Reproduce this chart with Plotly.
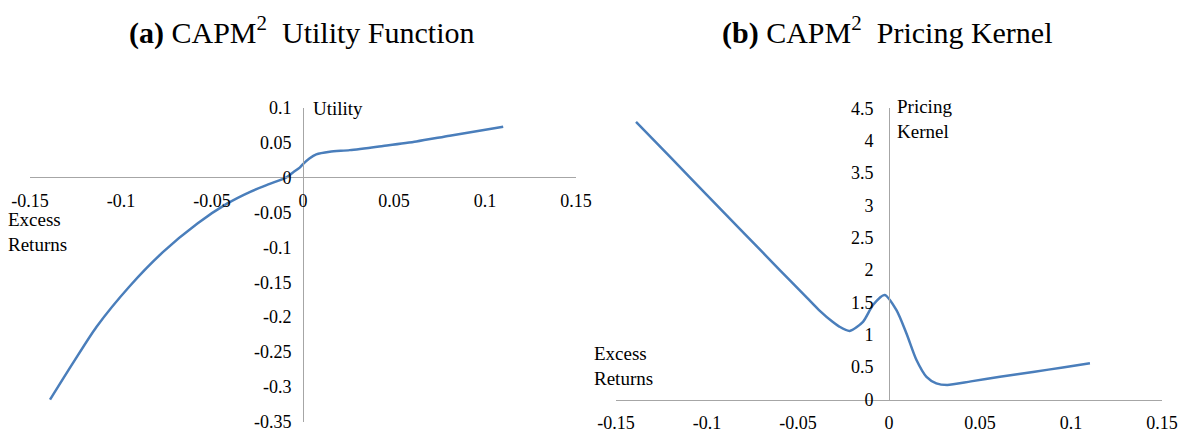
import plotly.graph_objects as go

# ---------------- data ----------------
utility_x = [-0.139, -0.126, -0.1135, -0.095, -0.077, -0.058, -0.042, -0.0293, -0.0183,
             -0.0091, -0.0055, -0.0018, 0.0, 0.0035, 0.0073, 0.0147, 0.0257, 0.044,
             0.0623, 0.0806, 0.11]
utility_y = [-0.318, -0.264, -0.214, -0.155, -0.107, -0.066, -0.038, -0.021, -0.0094,
             0.0, 0.0071, 0.014, 0.019, 0.027, 0.033, 0.0367, 0.039, 0.045,
             0.0514, 0.0596, 0.0724]

kernel_x = [-0.139, -0.12, -0.1, -0.08, -0.06, -0.045, -0.038, -0.031, -0.0275, -0.0216,
            -0.0143, -0.0088, -0.0024, 0.0041, 0.0096, 0.0151, 0.0206, 0.026, 0.032,
            0.045, 0.061, 0.08, 0.0955, 0.1104]
kernel_y = [4.29, 3.74, 3.16, 2.58, 2.0, 1.57, 1.37, 1.20, 1.13, 1.06,
            1.20, 1.46, 1.615, 1.38, 1.02, 0.61, 0.35, 0.25, 0.225,
            0.28, 0.35, 0.43, 0.495, 0.56]

x_ticks = [-0.15, -0.1, -0.05, 0, 0.05, 0.1, 0.15]
x_tick_labels = ["-0.15", "-0.1", "-0.05", "0", "0.05", "0.1", "0.15"]
u_ticks = [0.1, 0.05, 0, -0.05, -0.1, -0.15, -0.2, -0.25, -0.3, -0.35]
u_tick_labels = ["0.1", "0.05", "0", "-0.05", "-0.1", "-0.15", "-0.2", "-0.25", "-0.3", "-0.35"]
k_ticks = [0, 0.5, 1, 1.5, 2, 2.5, 3, 3.5, 4, 4.5]
k_tick_labels = ["0", "0.5", "1", "1.5", "2", "2.5", "3", "3.5", "4", "4.5"]

title_a = "<b>(a)</b> CAPM<sup>2</sup>\u00a0 Utility Function"
title_b = "<b>(b)</b> CAPM<sup>2</sup>\u00a0 Pricing Kernel"

# ---------------- layout geometry ----------------
W, H = 1179, 433
LINE = "#4a7ebb"
AXC = "#a6a6a6"
FONT = "Liberation Serif"

u_xr = [-0.15, 0.15]
u_yr = [-0.35, 0.1]
k_xr = [-0.15, 0.15]
k_yr = [0, 4.5]

u_xdom = [30 / W, 576 / W]
u_ydom = [(H - 422) / H, (H - 107.5) / H]
k_xdom = [616 / W, 1162 / W]
k_ydom = [(H - 399.5) / H, (H - 108.3) / H]


def frac(v, rng, dom):
    return dom[0] + (v - rng[0]) / (rng[1] - rng[0]) * (dom[1] - dom[0])


fig = go.Figure()
fig.add_trace(go.Scatter(x=utility_x, y=utility_y, mode="lines",
                         line=dict(color=LINE, width=2.5, shape="spline", smoothing=0.7),
                         xaxis="x", yaxis="y", showlegend=False, hoverinfo="skip"))
fig.add_trace(go.Scatter(x=kernel_x, y=kernel_y, mode="lines",
                         line=dict(color=LINE, width=2.5, shape="spline", smoothing=0.7),
                         xaxis="x2", yaxis="y2", showlegend=False, hoverinfo="skip"))

common = dict(showgrid=False, zeroline=False, showline=True, linecolor=AXC, linewidth=1,
              ticks="outside", tickcolor="rgba(0,0,0,0)", automargin=False,
              tickfont=dict(family=FONT, size=18, color="#000"), anchor="free")

fig.update_layout(
    width=W, height=H,
    margin=dict(l=0, r=0, t=0, b=0, autoexpand=False),
    paper_bgcolor="white", plot_bgcolor="white",
    xaxis=dict(domain=u_xdom, range=u_xr, tickvals=x_ticks, ticktext=x_tick_labels,
               position=frac(0, u_yr, u_ydom), ticklen=7, **common),
    yaxis=dict(domain=u_ydom, range=u_yr, tickvals=u_ticks, ticktext=u_tick_labels,
               position=frac(0, u_xr, u_xdom), ticklen=8, **common),
    xaxis2=dict(domain=k_xdom, range=k_xr, tickvals=x_ticks, ticktext=x_tick_labels,
                position=frac(0, k_yr, k_ydom), ticklen=7, **common),
    yaxis2=dict(domain=k_ydom, range=k_yr, tickvals=k_ticks, ticktext=k_tick_labels,
                position=frac(0, k_xr, k_xdom), ticklen=12, **common),
)


def ann(text, x, y, size, xanchor="left"):
    return dict(text=text, x=x / W, y=(H - y) / H, xref="paper", yref="paper",
                xanchor=xanchor, yanchor="middle", showarrow=False, align="left",
                font=dict(family=FONT, size=size, color="#000"))


fig.update_layout(annotations=[
    ann(title_a, 302, 30, 30, "center"),
    ann(title_b, 887, 30, 30, "center"),
    ann("Utility", 311, 108, 19),
    ann("Excess<br>Returns", 6, 232, 19),
    ann("Pricing<br>Kernel", 895, 119, 19),
    ann("Excess<br>Returns", 592, 366, 19),
])

fig.write_html(
    "out.html",
    config={"displayModeBar": False},
    post_script="document.body.style.margin='0';document.body.style.overflow='hidden';",
)
